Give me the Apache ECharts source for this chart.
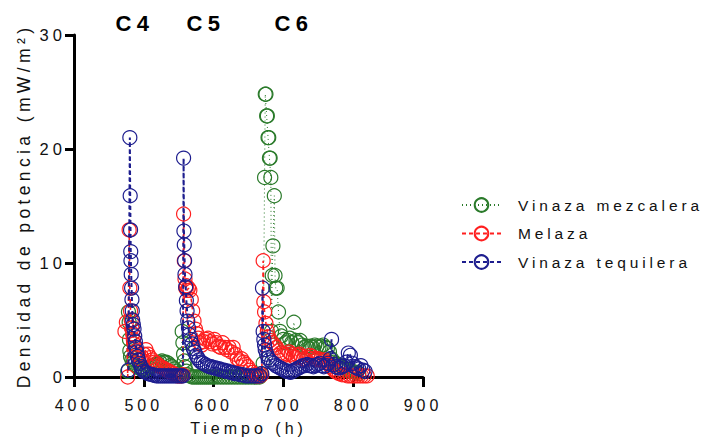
<!DOCTYPE html>
<html>
<head>
<meta charset="utf-8">
<script src="https://cdn.jsdelivr.net/npm/echarts@6/dist/echarts.min.js"></script>
<style>
  html, body { margin: 0; padding: 0; background: #fff; }
  #chart { width: 708px; height: 441px; }
  #chart text { letter-spacing: 0.25em; }
</style>
</head>
<body>
<div id="chart"></div>
<script>
// ---- data ----
const seriesNames = ['Vinaza mezcalera', 'Melaza', 'Vinaza tequilera'];
const cycleLabels = ['C4', 'C5', 'C6'];

// Vinaza mezcalera (green)
const mezcaleraTime = [
  477, 478, 479, 479.5, 480, 481, 483, 485, 487, 490, 493, 496, 499, 502, 505, 508, 511, 514, 517, 520, 523, 526, 529, 532, 535, 538, 541, 544, 547, 550, 553,
  555, 556, 557, 558, 559, 561, 563, 566, 569, 572, 575, 578, 581, 584, 587, 590, 593, 596, 599, 602, 606, 610, 614, 618, 622, 626, 630, 634, 638, 642, 646, 650, 654, 658, 662, 666,
  668, 671, 673, 674, 675, 676, 677, 678, 679, 680, 681, 682, 683, 684, 685, 687, 688, 689, 691, 693, 695, 697, 700, 703, 706, 709, 712, 715, 718, 721, 724, 727, 730, 733, 736, 739, 742, 745, 748, 751, 754, 757, 760, 763, 766, 769, 772, 775, 778, 781, 784, 787, 790, 793, 796, 799, 802, 805, 808
];
const mezcaleraValue = [
  0.5, 5.7, 4.8, 3.3, 2.3, 1.8, 1.5, 1.3, 1.1, 0.9, 0.8, 0.7, 0.6, 0.6, 0.7, 0.8, 0.9, 1.0, 1.1, 1.2, 1.3, 1.4, 1.3, 1.3, 1.2, 1.0, 0.9, 0.7, 0.5, 0.3, 0.2,
  4.0, 3.0, 2.0, 1.4, 0.9, 0.5, 0.2, 0.1, 0.0, 0.0, 0.0, 0.0, 0.0, 0.0, 0.0, 0.0, 0.0, 0.0, 0.0, 0.0, 0.0, 0.0, 0.0, 0.0, 0.0, 0.0, 0.0, 0.0, 0.0, 0.0, 0.0, 0.0, 0.0, 0.0, 0.0, 0.0,
  0.3, 1.2, 17.5, 24.8, 24.8, 22.9, 22.9, 21.0, 21.0, 19.2, 19.2, 17.5, 4.0, 8.9, 11.5, 15.9, 8.9, 7.8, 7.8, 5.7, 4.0, 3.6, 3.3, 3.0, 3.2, 3.4, 3.0, 4.8, 3.2, 3.0, 3.2, 2.8, 2.6, 2.7, 2.5, 2.7, 2.6, 2.8, 2.7, 2.6, 2.7, 2.8, 2.6, 2.5, 2.2, 1.6, 1.3, 1.2, 1.1, 1.0, 0.9, 0.8, 0.7, 0.6, 0.5, 0.5, 0.4, 0.4, 0.3
];

// Melaza (red)
const melazaTime = [
  473, 475, 477, 479, 480, 481, 482, 483, 484, 485, 486, 487, 489, 491, 493, 495, 497, 500, 503, 506, 509, 512, 515, 518, 521, 524, 527, 530, 533, 536, 539, 542, 545, 548, 551, 554,
  556, 557, 558, 559, 560, 561, 562, 564, 566, 568, 570, 572, 574, 576, 578, 580, 583, 586, 589, 592, 595, 598, 601, 604, 607, 610, 613, 616, 619, 622, 625, 628, 631, 634, 637, 640, 643, 646, 649, 652, 655, 658, 661, 664, 667,
  669, 671, 672, 673, 675, 677, 679, 681, 684, 687, 690, 693, 696, 699, 702, 705, 708, 711, 714, 717, 720, 723, 726, 729, 732, 735, 738, 741, 744, 747, 750, 753, 756, 759, 762, 765, 768, 771, 774, 777, 780, 784, 788, 792, 796, 800, 804, 808, 812, 816, 820
];
const melazaValue = [
  4.0, 4.8, 0.0, 12.9, 7.8, 5.8, 5.0, 4.3, 3.8, 3.3, 2.9, 2.6, 2.3, 2.0, 1.8, 1.6, 1.5, 2.0, 2.4, 2.0, 1.7, 1.5, 1.3, 1.2, 1.0, 0.9, 0.8, 0.7, 0.6, 0.5, 0.4, 0.3, 0.2, 0.1, 0.1, 0.1,
  0.2, 14.3, 10.2, 8.6, 7.8, 8.0, 7.6, 7.8, 7.6, 6.8, 5.8, 4.9, 4.2, 3.8, 3.4, 3.0, 2.8, 3.1, 3.3, 3.4, 3.1, 2.9, 3.3, 3.0, 2.7, 2.6, 3.0, 2.6, 2.4, 2.6, 2.2, 2.6, 2.0, 1.6, 1.4, 1.6, 1.3, 1.1, 0.9, 0.6, 0.4, 0.2, 0.1, 0.1, 0.1,
  0.2, 10.2, 6.6, 5.7, 4.7, 4.0, 3.5, 3.2, 3.0, 2.8, 2.6, 2.3, 2.1, 2.0, 1.9, 2.0, 2.2, 2.0, 1.8, 1.7, 1.9, 2.0, 1.8, 1.6, 1.5, 1.7, 1.9, 1.8, 1.6, 1.5, 1.6, 1.5, 1.4, 1.5, 1.3, 1.1, 0.9, 0.7, 0.5, 0.4, 0.3, 0.2, 0.2, 0.1, 0.1, 0.1, 0.1, 0.1, 0.1, 0.1, 0.1
];

// Vinaza tequilera (blue)
const tequileraTime = [
  478, 480, 480.5, 481, 481.3, 481.6, 482, 482.5, 483, 483.5, 484, 485, 486, 487, 488, 489, 490, 491, 492, 494, 496, 498, 500, 503, 506, 509, 512, 515, 518, 521, 524, 527, 530, 533, 536, 539, 542, 545, 548, 551, 554,
  556, 557, 557.5, 558, 558.5, 559, 560, 561, 562, 563, 564, 565, 567, 569, 571, 573, 575, 577, 579, 582, 585, 588, 591, 594, 597, 600, 603, 606, 609, 612, 615, 618, 621, 624, 627, 630, 634, 638, 642, 646, 650, 654, 658, 662, 666,
  669, 670, 671, 672, 673, 674, 676, 678, 680, 683, 686, 689, 692, 695, 698, 701, 704, 707, 710, 713, 716, 719, 722, 725, 728, 731, 734, 737, 740, 743, 746, 749, 752, 755, 758, 761, 764, 767, 769, 772, 775, 778, 781, 784, 787, 790, 793, 796, 799, 802, 805, 808, 811, 814, 817
];
const tequileraValue = [
  0.6, 21.0, 15.9, 12.9, 11.0, 10.2, 9.0, 7.8, 6.8, 5.8, 5.0, 4.6, 4.2, 3.6, 3.1, 2.6, 2.2, 1.8, 1.5, 1.2, 0.9, 0.7, 0.5, 0.4, 0.3, 0.25, 0.2, 0.15, 0.1, 0.1, 0.1, 0.1, 0.1, 0.1, 0.1, 0.1, 0.1, 0.1, 0.1, 0.1, 0.1,
  0.1, 19.2, 12.8, 11.6, 10.2, 9.0, 7.9, 6.7, 5.8, 4.9, 4.3, 3.7, 3.3, 2.9, 2.5, 2.2, 1.9, 1.7, 1.5, 1.3, 1.2, 1.1, 1.0, 0.9, 0.9, 0.8, 0.8, 0.7, 0.7, 0.6, 0.6, 0.5, 0.5, 0.4, 0.4, 0.3, 0.3, 0.2, 0.2, 0.1, 0.1, 0.1, 0.1, 0.1, 0.1,
  0.3, 7.8, 4.0, 3.3, 2.8, 2.4, 2.0, 1.7, 1.5, 1.3, 1.2, 1.0, 0.9, 0.8, 0.7, 0.6, 0.5, 0.5, 0.4, 0.5, 0.6, 0.7, 0.8, 0.9, 1.0, 1.0, 1.1, 1.0, 1.0, 0.9, 1.0, 1.1, 1.2, 1.0, 0.9, 1.0, 1.2, 1.6, 3.3, 1.1, 0.9, 0.8, 0.8, 0.9, 1.0, 1.3, 2.1, 1.9, 1.2, 0.9, 0.8, 0.7, 1.0, 0.6, 0.5
];

// ---- chart ----
const FONT = '"Liberation Sans", Arial, Helvetica, sans-serif';
const colors = ['#2a7a2a', '#ff1f1f', '#1d1d8e'];
const lineTypes = [[1, 3], [4, 3], [4, 3]];
const lineWidths = [1, 1.6, 2];
const times = [mezcaleraTime, melazaTime, tequileraTime];
const values = [mezcaleraValue, melazaValue, tequileraValue];

function pairs(t, v) { return t.map((x, i) => [x, v[i]]); }

const chart = echarts.init(document.getElementById('chart'), null, { renderer: 'svg' });

const series = seriesNames.map((name, k) => ({
  name: name,
  type: 'line',
  data: pairs(times[k], values[k]),
  symbol: 'circle',
  symbolSize: 14,
  showAllSymbol: true,
  clip: false,
  itemStyle: { color: 'rgba(255,255,255,0)', borderColor: colors[k], borderWidth: 1.2 },
  lineStyle: { color: colors[k], width: lineWidths[k], type: lineTypes[k] },
  emphasis: { disabled: true },
  z: 2 + k
}));

const titleX = [135, 206, 294];

chart.setOption({
  animation: false,
  backgroundColor: '#fff',
  textStyle: { fontFamily: FONT },
  grid: { left: 74, top: 35, width: 349, height: 348, containLabel: false },
  xAxis: {
    type: 'value', min: 400, max: 900, interval: 100,
    name: 'Tiempo (h)', nameLocation: 'middle', nameGap: 43,
    nameTextStyle: { fontSize: 16, color: '#111', fontFamily: FONT },
    axisLine: { lineStyle: { color: '#000', width: 3 } },
    axisTick: { length: 10, lineStyle: { color: '#000', width: 3 } },
    axisLabel: { fontSize: 16, color: '#111', margin: 20, fontFamily: FONT },
    splitLine: { show: false }
  },
  yAxis: {
    type: 'value', min: 0, max: 30, interval: 10,
    name: 'Densidad de potencia (mW/m²)', nameLocation: 'middle', nameGap: 41,
    nameTextStyle: { fontSize: 17.5, color: '#111', fontFamily: FONT },
    axisLine: { show: true, lineStyle: { color: '#000', width: 3 } },
    axisTick: { show: true, length: 9, lineStyle: { color: '#000', width: 3 } },
    axisLabel: { fontSize: 16.5, color: '#111', margin: 8, fontFamily: FONT },
    splitLine: { show: false }
  },
  legend: {
    orient: 'vertical', left: 456, top: 192,
    itemWidth: 39, itemHeight: 17, itemGap: 12.5,
    data: seriesNames,
    selectedMode: false,
    textStyle: { fontSize: 15.5, color: '#111', fontFamily: FONT, padding: [0, 0, 0, 12] }
  },
  graphic: cycleLabels.map((txt, i) => ({
    type: 'text', x: titleX[i], y: 23, silent: true,
    style: { text: txt, font: 'bold 22px ' + FONT, fill: '#000', align: 'center', verticalAlign: 'middle' }
  })),
  series: series
});
</script>
</body>
</html>
